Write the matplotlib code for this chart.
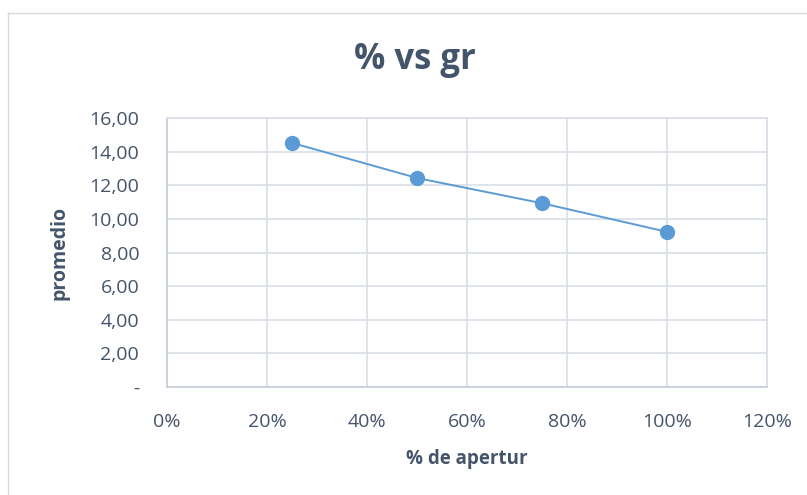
import matplotlib.pyplot as plt
from matplotlib.ticker import FuncFormatter, MultipleLocator
from matplotlib.lines import Line2D

plt.rcParams['font.family'] = ['Open Sans', 'DejaVu Sans']

# apertura (fraccion) vs promedio
apertura = [0.25, 0.50, 0.75, 1.00]
promedio = [14.52, 12.43, 10.93, 9.23]

txt = '#44546A'
grid = '#D9DEE6'
azul = '#5B9BD5'

fig = plt.figure(figsize=(8.07, 4.95), dpi=100)
ax = fig.add_axes([167/807, 108/495, 600/807, 269/495])

ax.plot(apertura, promedio, color=azul, lw=1.4, marker='o', ms=10,
        markerfacecolor=azul, markeredgecolor=azul, zorder=3)

ax.set_xlim(0, 1.2)
ax.set_ylim(0, 16)
ax.xaxis.set_major_locator(MultipleLocator(0.2))
ax.yaxis.set_major_locator(MultipleLocator(2))
ax.xaxis.set_major_formatter(FuncFormatter(lambda v, p: '%d%%' % round(v * 100)))
ax.yaxis.set_major_formatter(FuncFormatter(lambda v, p: '-' if abs(v) < 1e-9 else ('%.2f' % v).replace('.', ',')))

ax.grid(True, color=grid, lw=1.2, zorder=0)
ax.set_axisbelow(True)
for s in ['top', 'right']:
    ax.spines[s].set_color(grid)
    ax.spines[s].set_linewidth(1.2)
for s in ['left', 'bottom']:
    ax.spines[s].set_color('#C5CDD8')
    ax.spines[s].set_linewidth(1.2)

ax.tick_params(axis='both', length=0, labelsize=14, labelcolor=txt)
ax.tick_params(axis='y', pad=20)
ax.tick_params(axis='x', pad=19)

ax.set_xlabel('% de apertur', fontsize=13.5, fontweight='bold', color=txt, labelpad=13)
ax.set_ylabel('promedio', fontsize=14, fontweight='bold', color=txt, labelpad=14)

fig.text(415/807, 1 - 60/495, '% vs gr', fontsize=25, fontweight='bold', color=txt,
         ha='center', va='center')

# marco del grafico
fig.add_artist(Line2D([7.5/807, 7.5/807], [0, 1 - 12.5/495], transform=fig.transFigure, color='#D9D9D9', lw=1))
fig.add_artist(Line2D([7.5/807, 1], [1 - 12.5/495, 1 - 12.5/495], transform=fig.transFigure, color='#D9D9D9', lw=1))

fig.savefig('out.png', dpi=100)
